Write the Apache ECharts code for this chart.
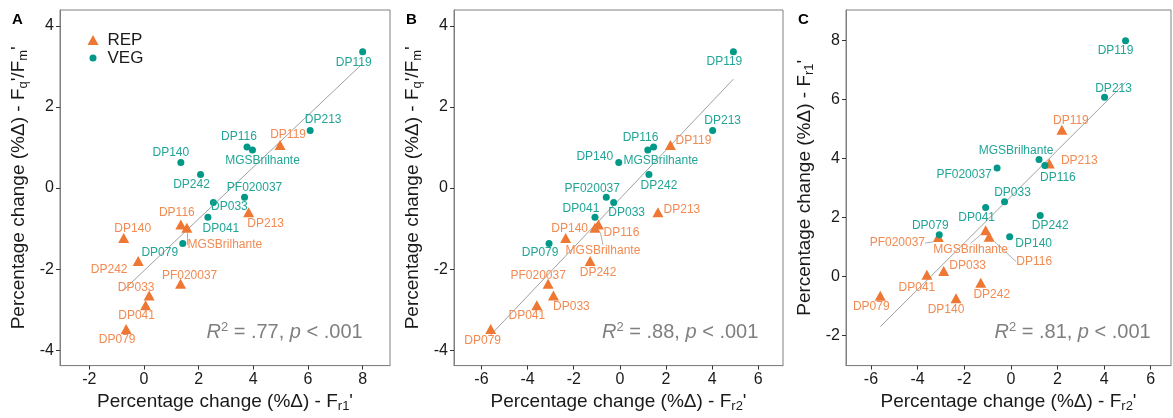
<!DOCTYPE html>
<html>
<head>
<meta charset="utf-8">
<script src="https://cdn.jsdelivr.net/npm/echarts@6/dist/echarts.min.js"></script>
<style>
  html, body { margin: 0; padding: 0; background: #ffffff; }
  #chart { width: 1173px; height: 418px; }
</style>
</head>
<body>
<div id="chart"></div>
<script>
// ---- data: percentage change per genotype, split by stage ----
const genotypes = ['DP119', 'DP213', 'DP116', 'MGSBrilhante', 'DP140', 'DP242', 'PF020037', 'DP033', 'DP041', 'DP079'];

// REP stage
const repFqFm = [1.06, -0.60, -0.90, -0.98, -1.23, -1.80, -2.36, -2.65, -2.89, -3.48];
const repFr1  = [4.98, 3.83, 1.35, 1.57, -0.74, -0.21, 1.34, 0.19, 0.06, -0.65];
const repFr2  = [2.19, 1.65, -0.93, -1.08, -2.35, -1.29, -3.11, -2.88, -3.60, -5.60];

// VEG stage
const vegFqFm = [3.36, 1.42, 1.01, 0.94, 0.63, 0.33, -0.23, -0.36, -0.72, -1.37];
const vegFr1  = [8.00, 6.08, 3.77, 3.97, 1.35, 2.07, 3.68, 2.54, 2.34, 1.42];
const vegFr2  = [4.92, 4.02, 1.46, 1.21, -0.05, 1.26, -0.59, -0.27, -1.08, -3.07];

const r2Values = ['.77', '.88', '.81'];
const pValueText = '< .001';
const panelLetters = ['A', 'B', 'C'];
const xTickLabels = [[-2, 0, 2, 4, 6, 8], [-6, -4, -2, 0, 2, 4, 6], [-6, -4, -2, 0, 2, 4, 6]];
const yTickLabels = [[-4, -2, 0, 2, 4], [-4, -2, 0, 2, 4], [-2, 0, 2, 4, 6, 8]];

// ---- styling / layout ----
const FONT = '"Liberation Sans", Arial, sans-serif';
const REP_COLOR = '#EE7733';
const VEG_COLOR = '#009988';
const REP_LABEL = '#F28A52';
const VEG_LABEL = '#22A596';
const INK = '#1a1a1a';
const FRAME = '#808080';

const grids = [
  { left: 60, top: 10, width: 330, height: 357 },
  { left: 454, top: 10, width: 329, height: 357 },
  { left: 846, top: 10, width: 325, height: 357 }
];
const xRanges = [[-3.07, 9.0], [-7.19, 7.07], [-7.07, 6.87]];
const yRanges = [[-4.38, 4.39], [-4.38, 4.39], [-3.02, 9.04]];

// label offsets (px, label centre relative to point), genotype order
const labelShift = {
  A: {
    REP: [[8, -10], [17, 11], [-4, -12], [38, 17], [9, -9], [-29, 9], [9, -8], [-13, -8], [-9, 11], [-9, 11]],
    VEG: [[-9, 11], [13, -11], [-8, -10], [10, 11], [-10, -10], [-9, 10], [10, -10], [16, 4], [13, 11], [-23, 9]]
  },
  B: {
    REP: [[23, -4], [24, -3], [23, 8], [8, 23], [4, -9], [8, 12], [-10, -8], [18, 11], [-10, 11], [-8, 12]],
    VEG: [[-9, 10], [10, -10], [-13, -9], [13, 11], [-24, -6], [10, 11], [-14, -9], [13, 10], [-14, -9], [-9, 9]]
  },
  C: {
    REP: [[9, -9], [30, -3], [45, 25], [-15, 19], [-10, 11], [11, 12], [-41, 6], [24, -5], [-10, 13], [-9, 11]],
    VEG: [[-10, 10], [9, -9], [13, 12], [-23, -9], [24, 7], [10, 10], [-33, 7], [8, -9], [-9, 10], [-9, -9]]
  }
};
const leaderLabels = {
  A: { REP: ['MGSBrilhante'], VEG: [] },
  B: { REP: ['MGSBrilhante'], VEG: [] },
  C: { REP: ['DP116', 'MGSBrilhante', 'PF020037'], VEG: [] }
};
// anchor (data units) of the right-aligned fit statistic in each panel
const statAnchor = [[8, -3.56], [6, -3.56], [6, -1.88]];

const panels = [
  { key: 'A', rep: [repFr1, repFqFm], veg: [vegFr1, vegFqFm],
    xName: "Percentage change (%Δ) - F{sub|r1}'", yName: "Percentage change (%Δ) - F{sub|q}'/F{sub|m}'" },
  { key: 'B', rep: [repFr2, repFqFm], veg: [vegFr2, vegFqFm],
    xName: "Percentage change (%Δ) - F{sub|r2}'", yName: "Percentage change (%Δ) - F{sub|q}'/F{sub|m}'" },
  { key: 'C', rep: [repFr2, repFr1], veg: [vegFr2, vegFr1],
    xName: "Percentage change (%Δ) - F{sub|r2}'", yName: "Percentage change (%Δ) - F{sub|r1}'" }
];

// ordinary least squares over both stages
function fitLine(xs, ys) {
  const n = xs.length;
  const mx = xs.reduce((a, b) => a + b, 0) / n;
  const my = ys.reduce((a, b) => a + b, 0) / n;
  let sxy = 0, sxx = 0;
  for (let i = 0; i < n; i++) { sxy += (xs[i] - mx) * (ys[i] - my); sxx += (xs[i] - mx) ** 2; }
  const b = sxy / sxx, a = my - b * mx;
  const x0 = Math.min(...xs), x1 = Math.max(...xs);
  return [[x0, a + b * x0], [x1, a + b * x1]];
}

const nameStyle = {
  fontSize: 19, color: INK, fontFamily: FONT,
  rich: { sub: { fontSize: 13, color: INK, fontFamily: FONT, padding: [9, 0, 0, 0] } }
};

const xAxes = [], yAxes = [], series = [];
panels.forEach((p, i) => {
  xAxes.push({
    gridIndex: i, type: 'value', min: xRanges[i][0], max: xRanges[i][1],
    name: p.xName, nameLocation: 'middle', nameGap: 22, nameTextStyle: nameStyle,
    axisLine: { show: true, onZero: false, lineStyle: { color: FRAME, width: 1 } },
    axisTick: { show: true, length: 4, customValues: xTickLabels[i], lineStyle: { color: '#333' } },
    axisLabel: { customValues: xTickLabels[i], fontSize: 16, color: INK, fontFamily: FONT, margin: 6 },
    splitLine: { show: false }
  });
  yAxes.push({
    gridIndex: i, type: 'value', min: yRanges[i][0], max: yRanges[i][1],
    name: p.yName, nameLocation: 'middle', nameGap: 30, nameTextStyle: nameStyle,
    axisLine: { show: true, onZero: false, lineStyle: { color: FRAME, width: 1 } },
    axisTick: { show: true, length: 4, customValues: yTickLabels[i], lineStyle: { color: '#333' } },
    axisLabel: { customValues: yTickLabels[i], fontSize: 16, color: INK, fontFamily: FONT, margin: 6 },
    splitLine: { show: false }
  });

  const allX = p.rep[0].concat(p.veg[0]);
  const allY = p.rep[1].concat(p.veg[1]);
  series.push({
    type: 'line', xAxisIndex: i, yAxisIndex: i, silent: true, z: 1,
    data: fitLine(allX, allY), showSymbol: false, symbol: 'none',
    lineStyle: { color: '#a0a0a0', width: 1 }
  });

  [['REP', p.rep, 'triangle', [11, 10], REP_COLOR, REP_LABEL],
   ['VEG', p.veg, 'circle', 7, VEG_COLOR, VEG_LABEL]].forEach(([name, xy, symbol, size, color, lcolor]) => {
    const shift = labelShift[p.key][name];
    const leaders = leaderLabels[p.key][name];
    series.push({
      type: 'scatter', name, xAxisIndex: i, yAxisIndex: i, z: 3,
      symbol, symbolSize: size,
      itemStyle: { color, opacity: 1 },
      data: genotypes.map((g, k) => ({
        name: g, value: [xy[0][k], xy[1][k]],
        labelLine: { show: leaders.includes(g) }
      })),
      label: {
        show: true, position: 'inside', formatter: (d) => d.name,
        color: lcolor, fontSize: 12, fontFamily: FONT
      },
      labelLayout: (params) => ({ dx: shift[params.dataIndex][0], dy: shift[params.dataIndex][1] }),
      labelLine: { show: true, lineStyle: { color: '#9a9a9a', width: 0.8 } },
      emphasis: { disabled: true }
    });
  });
});

const chart = echarts.init(document.getElementById('chart'), null, { renderer: 'canvas' });
chart.setOption({
  animation: false,
  backgroundColor: '#ffffff',
  grid: grids.map(g => Object.assign({ show: true, borderColor: FRAME, borderWidth: 1, backgroundColor: 'transparent' }, g)),
  xAxis: xAxes,
  yAxis: yAxes,
  legend: [
    { data: [{ name: 'REP', icon: 'triangle' }], orient: 'vertical', left: 82.5, top: 26.5,
      itemWidth: 11, itemHeight: 10, selectedMode: false,
      textStyle: { fontSize: 17, color: INK, fontFamily: FONT, padding: [0, 0, 0, 4] } },
    { data: [{ name: 'VEG', icon: 'circle' }], orient: 'vertical', left: 84.5, top: 44.5,
      itemWidth: 7, itemHeight: 7, selectedMode: false,
      textStyle: { fontSize: 17, color: INK, fontFamily: FONT, padding: [0, 0, 0, 6] } }
  ],
  series
});

// panel letters and fit statistics
const graphics = [];
panels.forEach((p, i) => {
  const g = grids[i];
  graphics.push({
    type: 'text', left: g.left - 48, top: 12,
    style: { text: panelLetters[i], fontSize: 15, fontWeight: 'bold', fill: '#000', fontFamily: FONT }
  });
  const pt = chart.convertToPixel({ gridIndex: i }, statAnchor[i]);
  graphics.push({
    type: 'text', x: pt[0], y: pt[1], silent: true,
    style: {
      text: '{it|R}{sup|2}{n| = ' + r2Values[i] + ', }{it|p}{n| ' + pValueText + '}',
      align: 'right', verticalAlign: 'middle', fill: '#7f7f7f', fontFamily: FONT, fontSize: 20,
      rich: {
        it: { fontStyle: 'italic', fontSize: 20, fill: '#7f7f7f', fontFamily: FONT },
        n: { fontSize: 20, fill: '#7f7f7f', fontFamily: FONT },
        sup: { fontSize: 13, fill: '#7f7f7f', fontFamily: FONT, padding: [0, 0, 10, 0] }
      }
    }
  });
});
chart.setOption({ graphic: graphics });
</script>
</body>
</html>
